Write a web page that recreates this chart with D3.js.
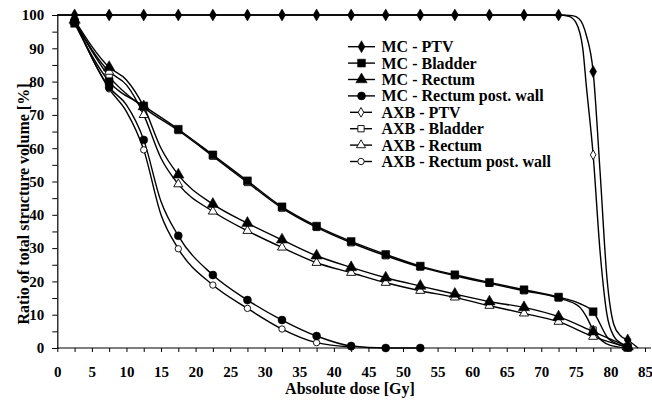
<!DOCTYPE html>
<html><head><meta charset="utf-8">
<script src="https://cdn.jsdelivr.net/npm/d3@7"></script>
<style>
html,body{margin:0;padding:0;background:#fff;}
svg{display:block;}
text{font-family:"Liberation Serif","Times New Roman",serif;font-weight:bold;fill:#000;}
</style></head>
<body><svg id="chart" width="652" height="400"></svg>
<script>
// ---- data ----
const xTicks = d3.range(0, 85.01, 2.5);
const xLabels = d3.range(0, 85.01, 5);
const yTicks = d3.range(0, 100.01, 5);
const yLabels = d3.range(0, 100.01, 10);
const seriesNames = ["MC - PTV","MC - Bladder","MC - Rectum","MC - Rectum post. wall",
                     "AXB - PTV","AXB - Bladder","AXB - Rectum","AXB - Rectum post. wall"];
const seriesMarkers = ["diamond","square","triangle","circle","diamond","square","triangle","circle"];
const seriesFilled = [true,true,true,true,false,false,false,false];

const mcPtvDose = [0,2.5,7.5,12.5,17.5,22.5,27.5,32.5,37.5,42.5,47.5,52.5,57.5,62.5,67.5,72.5,74.5,75.5,76.5,77.5,78.5,79.5,80.5,81.5,82.5,84];
const mcPtvVal  = [100,100,100,100,100,100,100,100,100,100,100,100,100,100,100,100,99.8,98.8,94,83,53,21,7,3.6,2.4,0];
const axbPtvDose = [0,2.5,7.5,12.5,17.5,22.5,27.5,32.5,37.5,42.5,47.5,52.5,57.5,62.5,67.5,72.5,74,75,76,76.5,77.5,78.5,79.5,80.5,81.5,82.5];
const axbPtvVal  = [100,100,100,100,100,100,100,100,100,100,100,100,100,100,100,100,99.6,97.8,90,79,58,29,10,3.5,1.5,0.4];

const mcBladderDose = [2.5,7.5,12.5,17.5,22.5,27.5,32.5,37.5,42.5,47.5,52.5,57.5,62.5,67.5,72.5,75.5,77.5,79.8,82.5];
const mcBladderVal  = [97.5,80,72.7,65.7,58,50.2,42.4,36.6,32,28.1,24.6,22,19.7,17.5,15.3,13.4,10.9,2.6,0.2];
const axbBladderDose = [2.5,7.5,12.5,17.5,22.5,27.5,32.5,37.5,42.5,47.5,52.5,57.5,62.5,67.5,72.5,75.5,76.5,77.5,80,82.5];
const axbBladderVal  = [98,81.5,72.2,65.3,57.6,49.7,42,36.2,31.6,27.7,24.3,21.7,19.4,17.2,15,12.4,9.5,5.4,0.8,0];

const mcRectumDose = [2.5,7.5,10,12.5,15,17.5,22.5,27.5,32.5,37.5,42.5,47.5,52.5,57.5,62.5,67.5,72.5,77.5,82.5];
const mcRectumVal  = [98.5,84.3,80.5,72.5,60,52,43.2,37.5,32.5,27.7,24.2,21.1,18.6,16.2,13.9,12.2,9.4,4.9,0.4];
const axbRectumDose = [2.5,7.5,10,12.5,15,17.5,22.5,27.5,32.5,37.5,42.5,47.5,52.5,57.5,62.5,67.5,72.5,77.5,82.5];
const axbRectumVal  = [98,83,79,70,57,49.2,41,35.2,30.2,25.6,22.6,19.6,17.2,15.2,12.7,10.4,7.9,3.4,0.2];

const mcRpwDose = [2.5,7.5,10,12.5,15,17.5,22.5,27.5,32.5,37.5,42.5,47.5,52.5];
const mcRpwVal  = [98.5,78.3,73,62.5,44,33.7,21.9,14.4,8.4,3.6,0.6,0,0];
const axbRpwDose = [2.5,7.5,10,12.5,15,17.5,22.5,27.5,32.5,37.5,42.5];
const axbRpwVal  = [98,77.8,71,59.5,40,29.8,18.9,11.9,5.7,1.6,0.3];

const seriesDose = [mcPtvDose,mcBladderDose,mcRectumDose,mcRpwDose,axbPtvDose,axbBladderDose,axbRectumDose,axbRpwDose];
const seriesVal  = [mcPtvVal,mcBladderVal,mcRectumVal,mcRpwVal,axbPtvVal,axbBladderVal,axbRectumVal,axbRpwVal];

// ---- layout ----
const svg = d3.select("#chart");
svg.append("rect").attr("width",652).attr("height",400).attr("fill","#fff");
const x = d3.scaleLinear().domain([0,85]).range([57.3,645]);
const y = d3.scaleLinear().domain([0,100]).range([348,15]);

// axes
const gx = svg.append("g").attr("transform","translate(0,348)");
gx.call(d3.axisBottom(x).tickValues(xTicks).tickSize(4).tickFormat(""));
gx.select(".domain").remove();
gx.selectAll(".tick line").attr("stroke","#000").attr("stroke-width",1);
gx.append("line").attr("x1",x(0)).attr("x2",x(85)+6).attr("stroke","#000").attr("stroke-width",1.2);
const gxl = svg.append("g").attr("transform","translate(0,348)");
gxl.call(d3.axisBottom(x).tickValues(xLabels).tickSize(0).tickPadding(18).tickFormat(d3.format("d")));
gxl.select(".domain").remove();
gxl.selectAll("text").style("font-size","15px").style("font-family","'Liberation Serif',serif").style("font-weight","bold").attr("fill","#000");

const gy = svg.append("g").attr("transform","translate(57.3,0)");
gy.call(d3.axisLeft(y).tickValues(yTicks).tickSize(5).tickFormat(""));
gy.select(".domain").attr("stroke","#000").attr("stroke-width",1.2);
gy.selectAll(".tick line").attr("stroke","#000");
const gyl = svg.append("g").attr("transform","translate(57.3,0)");
gyl.call(d3.axisLeft(y).tickValues(yLabels).tickSize(0).tickPadding(13).tickFormat(d3.format("d")));
gyl.select(".domain").remove();
gyl.selectAll("text").style("font-size","15px").style("font-family","'Liberation Serif',serif").style("font-weight","bold").attr("fill","#000");

// titles
svg.append("text").attr("x",350).attr("y",394).attr("text-anchor","middle").style("font-size","16px").text("Absolute dose [Gy]");
svg.append("text").attr("transform","translate(29,204) rotate(-90)").attr("text-anchor","middle").style("font-size","16px").text("Ratio of total structure volume [%]");

// markers
function markerPath(type, filled){
  const s = filled ? 1 : 0.8;
  const sym = {diamond:d3.symbolDiamond, square:d3.symbolSquare, triangle:d3.symbolTriangle, circle:d3.symbolCircle}[type];
  const size = {diamond:42, square:62, triangle:56, circle:50}[type] * s * s;
  return d3.symbol().type(sym).size(size)();
}

const line = d3.line().x(d=>x(d[0])).y(d=>y(d[1])).curve(d3.curveMonotoneX);
const plot = svg.append("g");
seriesNames.forEach((name,i)=>{
  const pts = seriesDose[i].map((d,j)=>[d, seriesVal[i][j]]);
  plot.append("path").attr("d",line(pts)).attr("fill","none").attr("stroke","#000").attr("stroke-width",1.4);
});
// AXB markers first, MC markers on top
[4,5,6,7,0,1,2,3].forEach(i=>{
  const pts = seriesDose[i].map((d,j)=>[d, seriesVal[i][j]]).filter(p=>Math.abs(((p[0]-2.5)%5))<1e-6);
  plot.selectAll(null).data(pts).enter().append("path")
    .attr("d", markerPath(seriesMarkers[i], seriesFilled[i]))
    .attr("transform", p=>`translate(${x(p[0])},${y(p[1])})`)
    .attr("fill", seriesFilled[i] ? "#000" : "#fff")
    .attr("stroke","#000").attr("stroke-width", seriesFilled[i] ? 0.5 : 0.9);
});

// legend
const lg = svg.append("g");
seriesNames.forEach((name,i)=>{
  const cy = 46.7 + i*16.4;
  const x1 = seriesFilled[i] ? 348 : 350, x2 = seriesFilled[i] ? 375 : 372;
  lg.append("line").attr("x1",x1).attr("x2",x2).attr("y1",cy).attr("y2",cy).attr("stroke","#000").attr("stroke-width",1.4);
  lg.append("path").attr("d", markerPath(seriesMarkers[i], seriesFilled[i]))
    .attr("transform",`translate(${(x1+x2)/2},${cy})`)
    .attr("fill", seriesFilled[i] ? "#000" : "#fff").attr("stroke","#000").attr("stroke-width", seriesFilled[i]?0.5:0.9);
  lg.append("text").attr("x",381.5).attr("y",cy+5.5).style("font-size","16px").text(name);
});
</script></body></html>
